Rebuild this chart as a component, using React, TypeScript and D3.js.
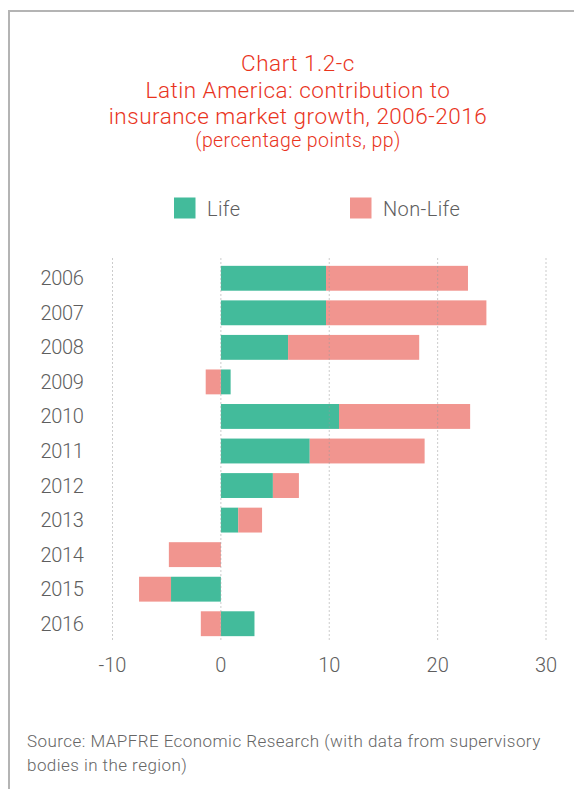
import React, { useEffect, useRef } from 'react';
import * as d3 from 'd3';

const years = ['2006', '2007', '2008', '2009', '2010', '2011', '2012', '2013', '2014', '2015', '2016'];
const lifeValues = [9.7, 9.7, 6.2, 0.9, 10.9, 8.2, 4.8, 1.6, 0, -4.6, 3.1];
const nonLifeValues = [13.1, 14.8, 12.1, -1.4, 12.1, 10.6, 2.4, 2.2, -4.8, -2.95, -1.85];
const xTicks = [-10, 0, 10, 20, 30];
const seriesNames = ['Life', 'Non-Life'];
const seriesColors = ['#43bb9b', '#f1958f'];

function App() {
  const ref = useRef<SVGSVGElement>(null);

  useEffect(() => {
    const svg = d3.select(ref.current);
    svg.selectAll('*').remove();

    const height = 789;
    const font = 'Roboto, "DejaVu Sans", sans-serif';
    const textGrey = '#5e5e5e';

    // frame lines
    svg.append('line').attr('x1', 9).attr('x2', 574).attr('y1', 11).attr('y2', 11)
      .attr('stroke', '#b4b4b4').attr('stroke-width', 2);
    svg.append('line').attr('x1', 9).attr('x2', 9).attr('y1', 10).attr('y2', height)
      .attr('stroke', '#b4b4b4').attr('stroke-width', 2);

    // title
    const titleLines = ['Chart 1.2-c', 'Latin America: contribution to', 'insurance market growth, 2006-2016'];
    titleLines.forEach((t, i) => {
      svg.append('text')
        .attr('x', 298).attr('y', 71 + i * 26.5)
        .attr('text-anchor', 'middle')
        .style('font-family', font).style('font-size', '22.5px').style('font-weight', 300)
        .style('letter-spacing', '0.5px')
        .attr('fill', '#e9341d')
        .text(t);
    });
    svg.append('text')
      .attr('x', 298).attr('y', 147)
      .attr('text-anchor', 'middle')
      .style('font-family', font).style('font-size', '19.5px').style('font-weight', 300)
      .style('letter-spacing', '0.4px')
      .attr('fill', '#e9341d')
      .text('(percentage points, pp)');

    // legend
    const legendX = [174, 350];
    seriesNames.forEach((name, i) => {
      svg.append('rect').attr('x', legendX[i]).attr('y', 197.5).attr('width', 21.5).attr('height', 21)
        .attr('fill', seriesColors[i]);
      svg.append('text').attr('x', legendX[i] + 33).attr('y', 216)
        .style('font-family', font).style('font-size', '20px').style('font-weight', 300)
        .style('letter-spacing', '0.4px')
        .attr('fill', textGrey).text(name);
    });

    // scales
    const x = d3.scaleLinear().domain([-10, 30]).range([112.5, 546]);
    const y = d3.scaleBand().domain(years).range([261, 641]).paddingInner(0.28).paddingOuter(0.14);

    const table = years.map((yr, i) => ({ year: yr, Life: lifeValues[i], 'Non-Life': nonLifeValues[i] }));
    const stacked = d3.stack<any>().keys(seriesNames).offset(d3.stackOffsetDiverging)(table);

    const g = svg.append('g');
    stacked.forEach((s, si) => {
      g.selectAll(null).data(s).enter().append('rect')
        .attr('x', d => x(Math.min(d[0], d[1])))
        .attr('width', d => Math.abs(x(d[1]) - x(d[0])))
        .attr('y', d => y(d.data.year) as number)
        .attr('height', y.bandwidth())
        .attr('fill', seriesColors[si]);
    });

    // gridlines (drawn over the bars, dashed)
    svg.append('g').selectAll('line').data(xTicks).enter().append('line')
      .attr('x1', d => x(d)).attr('x2', d => x(d))
      .attr('y1', 258).attr('y2', 641)
      .attr('stroke', '#999').attr('stroke-opacity', 0.5)
      .attr('stroke-dasharray', '2,2').attr('stroke-width', 1);

    // x axis labels
    svg.append('g').selectAll('text').data(xTicks).enter().append('text')
      .attr('x', d => x(d)).attr('y', 672)
      .attr('text-anchor', 'middle')
      .style('font-family', font).style('font-size', '20px').style('font-weight', 300)
      .attr('fill', textGrey)
      .text(d => String(d));

    // year labels
    svg.append('g').selectAll('text').data(years).enter().append('text')
      .attr('x', 62).attr('y', d => (y(d) as number) + y.bandwidth() / 2 + 7)
      .attr('text-anchor', 'middle')
      .style('font-family', font).style('font-size', '20px').style('font-weight', 300)
      .style('letter-spacing', '-0.4px')
      .attr('fill', textGrey)
      .text(d => d);

    // source
    const source = ['Source: MAPFRE Economic Research (with data from supervisory', 'bodies in the region)'];
    source.forEach((t, i) => {
      svg.append('text').attr('x', 27).attr('y', 747 + i * 23.5)
        .style('font-family', font).style('font-size', '17px').style('font-weight', 300)
        .style('letter-spacing', '0.45px')
        .attr('fill', '#666').text(t);
    });
  }, []);

  return (
    <svg ref={ref} width={574} height={789}
      style={{ position: 'absolute', left: 0, top: 0, background: '#fff' }} />
  );
}

export default App;
